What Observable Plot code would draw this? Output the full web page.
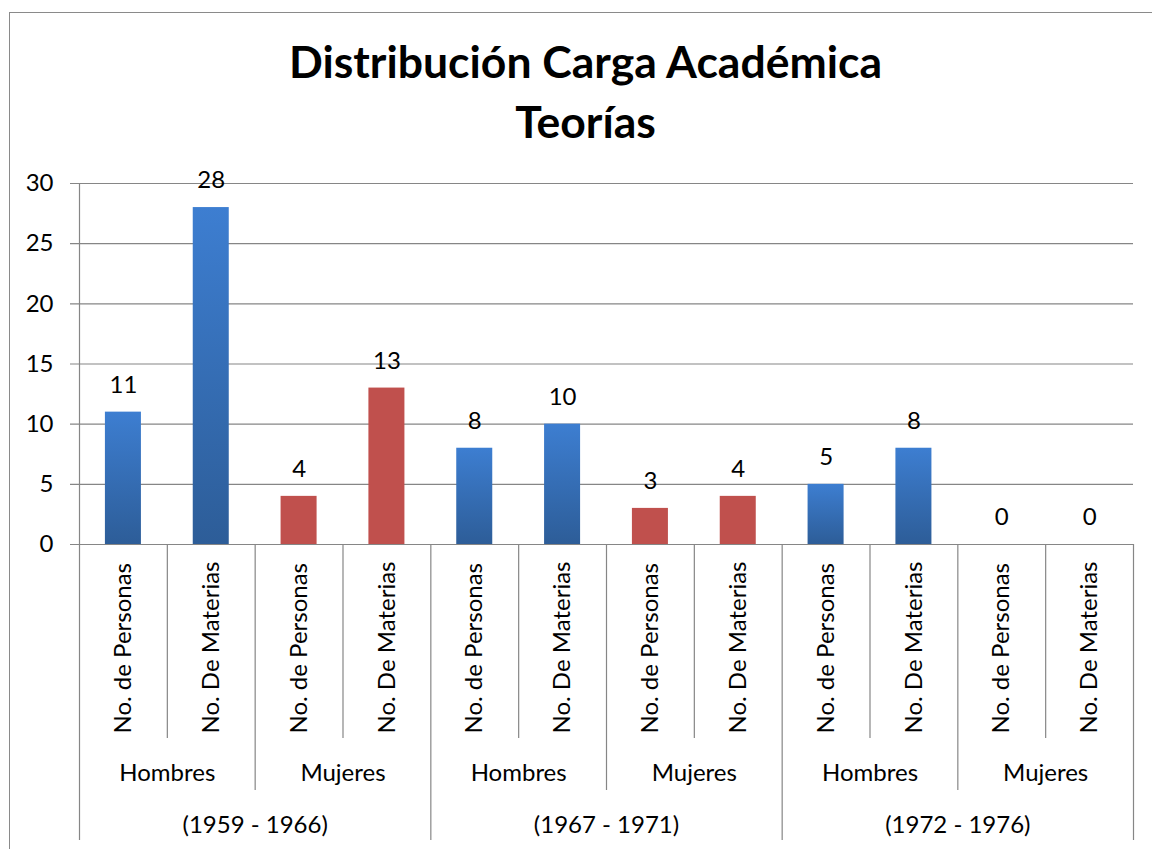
<!DOCTYPE html>
<html><head><meta charset="utf-8">
<script src="https://cdn.jsdelivr.net/npm/d3@7"></script>
<script src="https://cdn.jsdelivr.net/npm/@observablehq/plot@0.6"></script>
<style>
body{margin:0;background:#fff;font-family:Lato,"Noto Sans",sans-serif;}
#wrap{position:relative;width:1152px;height:849px;overflow:hidden;background:#fff;}
#border{position:absolute;left:9px;top:12px;width:1300px;height:1000px;border:1.5px solid #8a8a8a;box-sizing:border-box;}
#title{position:absolute;left:0;top:31px;width:1171px;text-align:center;font-weight:bold;font-size:44.5px;line-height:60px;color:#000;}
#chart{position:absolute;left:0;top:0;}
</style></head>
<body><div id="wrap"><div id="border"></div><div id="title">Distribución Carga Académica<br>Teorías</div><div id="chart"></div></div>
<script>
const periods = ["(1959 - 1966)", "(1967 - 1971)", "(1972 - 1976)"];
const genders = ["Hombres", "Mujeres"];
const measures = ["No. de Personas", "No. De Materias"];
const values = [11, 28, 4, 13, 8, 10, 3, 4, 5, 8, 0, 0];
const yTicks = [0, 5, 10, 15, 20, 25, 30];

const rows = [];
periods.forEach((p, pi) => genders.forEach((g, gi) => measures.forEach((m, mi) => {
  rows.push({key: rows.length, period: p, pi, gender: g, gi, measure: m, mi, value: values[rows.length]});
})));
const keys = rows.map(d => d.key);

const W = 1152, H = 849, mL = 79, mR = 19, mT = 183, mB = 305;
const frameH = H - mT - mB;
const step = (W - mL - mR) / keys.length;
const pad = 0.59;
const gray = "#868686";
const fs = 24;

const defs = () => {
  const d = d3.create("svg:defs");
  const g = d.append("linearGradient").attr("id", "gradBlue").attr("x1", 0).attr("y1", 0).attr("x2", 0).attr("y2", 1);
  g.append("stop").attr("offset", "0%").attr("stop-color", "#3D7ED1");
  g.append("stop").attr("offset", "100%").attr("stop-color", "#2D5D98");
  const f = d.append("filter").attr("id", "shadow").attr("x", "-20%").attr("y", "-20%").attr("width", "150%").attr("height", "140%");
  f.append("feDropShadow").attr("dx", 2).attr("dy", 1).attr("stdDeviation", 1.5).attr("flood-color", "#000").attr("flood-opacity", 0.25);
  return d.node();
};

// separator edges
const leftEdges = rows.map((d, i) => ({key: d.key, level: i % 4 === 0 ? 2 : (i % 2 === 0 ? 1 : 0)}));
const levelLen = [194, 246, 296];
const sepMarks = [];
[0, 1, 2].forEach(lv => {
  sepMarks.push(Plot.ruleX(leftEdges.filter(e => e.level === lv && e.key !== 0), {
    x: "key", dx: -step / 2, stroke: gray, strokeWidth: 1.2, insetTop: frameH, insetBottom: -levelLen[lv]
  }));
});
// leftmost line (axis line + category border)
sepMarks.push(Plot.ruleX([keys[0]], {x: d => d, dx: -step / 2, stroke: gray, strokeWidth: 1.2, insetTop: 0, insetBottom: -levelLen[2]}));
// rightmost border
sepMarks.push(Plot.ruleX([keys[keys.length - 1]], {x: d => d, dx: step / 2, stroke: gray, strokeWidth: 1.2, insetTop: frameH, insetBottom: -levelLen[2]}));

const genderRows = rows.filter(d => d.mi === 0);
const periodRows = rows.filter(d => d.gi === 0 && d.mi === 1);

const chart = Plot.plot({
  width: W, height: H,
  marginLeft: mL, marginRight: mR, marginTop: mT, marginBottom: mB,
  style: {fontFamily: "Lato, 'Noto Sans', sans-serif", background: "transparent", color: "#000"},
  x: {domain: keys, paddingInner: pad, paddingOuter: pad / 2, round: false, axis: null},
  y: {domain: [0, 30], axis: null},
  marks: [
    defs,
    Plot.ruleY(yTicks, {y: d => d, stroke: gray, strokeWidth: 1.2, insetLeft: -9}),
    Plot.axisY({ticks: yTicks, tickSize: 0, tickPadding: 26, fontSize: fs, fill: "#000", textAnchor: "end", label: null}),
    Plot.barY(rows.filter(d => d.gi === 0), {x: "key", y: "value", fill: "url(#gradBlue)", filter: d => d.value > 0, style: {filter: "url(#shadow)"}}),
    Plot.barY(rows.filter(d => d.gi === 1), {x: "key", y: "value", fill: "#C0504D", filter: d => d.value > 0}),
    ...sepMarks,
    Plot.text(rows, {x: "key", y: "value", text: d => String(d.value), dy: -27, lineAnchor: "middle", fontSize: fs, fill: "#000"}),
    Plot.text(rows, {x: "key", text: "measure", rotate: -90, textAnchor: "start", lineAnchor: "middle", frameAnchor: "bottom", dy: 189, fontSize: fs, fill: "#000"}),
    Plot.text(genderRows, {x: "key", text: "gender", dx: step / 2, frameAnchor: "bottom", dy: 229, lineAnchor: "middle", fontSize: fs, fill: "#000"}),
    Plot.text(periodRows, {x: "key", text: "period", dx: step / 2, frameAnchor: "bottom", dy: 281, lineAnchor: "middle", fontSize: fs, fill: "#000"})
  ]
});
document.getElementById("chart").appendChild(chart);
</script>
</body></html>
